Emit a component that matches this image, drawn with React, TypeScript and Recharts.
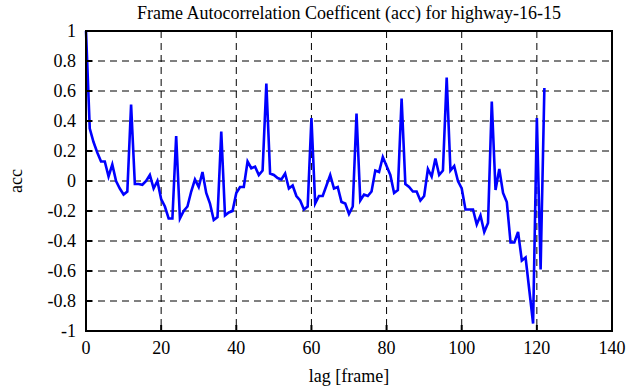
import React from 'react';
import { LineChart, Line, XAxis, YAxis, CartesianGrid, ReferenceArea } from 'recharts';

const lags: number[] = Array.from({ length: 123 }, (_, i) => i);
const acc: number[] = [
  1.0, 0.35, 0.26, 0.19, 0.13, 0.13, 0.03, 0.11, 0.0, -0.05,
  -0.09, -0.07, 0.51, -0.02, -0.02, -0.025, 0.0, 0.04, -0.05, 0.0,
  -0.12, -0.17, -0.25, -0.25, 0.30, -0.25, -0.20, -0.17, -0.07, 0.01,
  -0.04, 0.06, -0.08, -0.15, -0.26, -0.24, 0.33, -0.23, -0.21, -0.20,
  -0.08, -0.04, -0.04, 0.13, 0.085, 0.096, 0.04, 0.07, 0.65, 0.05,
  0.04, 0.02, 0.01, 0.05, -0.05, -0.03, -0.10, -0.13, -0.19, -0.17,
  0.42, -0.15, -0.10, -0.10, -0.03, 0.04, -0.05, -0.04, -0.14, -0.15,
  -0.22, -0.17, 0.45, -0.13, -0.09, -0.10, -0.07, 0.07, 0.06, 0.16,
  0.10, 0.04, -0.08, -0.06, 0.55, -0.02, -0.04, -0.07, -0.07, -0.13,
  -0.10, 0.08, 0.03, 0.15, 0.04, 0.07, 0.69, 0.07, 0.10, 0.0,
  -0.05, -0.19, -0.19, -0.19, -0.29, -0.23, -0.34, -0.28, 0.53, -0.06,
  0.08, -0.08, -0.14, -0.41, -0.41, -0.34, -0.53, -0.51, -0.73, -0.95,
  0.42, -0.59, 0.62,
];
const xTicks: number[] = [0, 20, 40, 60, 80, 100, 120, 140];
const yTicks: number[] = [-1, -0.8, -0.6, -0.4, -0.2, 0, 0.2, 0.4, 0.6, 0.8, 1];

const title = 'Frame Autocorrelation Coefficent (acc) for highway-16-15';
const xLabel = 'lag [frame]';
const yLabel = 'acc';

const data = lags.map((l, i) => ({ lag: l, acc: acc[i] }));

const FONT = '"Liberation Serif", "DejaVu Serif", serif';
const FS = 18;
const fmt = (v: number) => String(Number(v.toFixed(1)));

export default function App() {
  return (
    <div style={{ position: 'absolute', left: 0, top: 0, background: '#fff' }}>
      <LineChart
        width={641}
        height={387}
        data={data}
        margin={{ top: 0, right: 0, bottom: 0, left: 0 }}
        style={{ fontFamily: FONT }}
      >
        <CartesianGrid
          xAxisId="b"
          yAxisId="l"
          stroke="#000"
          strokeDasharray="7 5"
          strokeWidth={1}
        />
        <XAxis
          xAxisId="b"
          dataKey="lag"
          type="number"
          domain={[0, 140]}
          ticks={xTicks}
          height={56}
          stroke="#000"
          strokeWidth={2}
          tickSize={-6}
          tickMargin={16}
          tick={{ fill: '#000', fontSize: FS, fontFamily: FONT }}
          label={{
            content: (p: any) => (
              <text
                x={p.viewBox.x + p.viewBox.width / 2}
                y={p.viewBox.y + 51}
                textAnchor="middle"
                fontSize={FS}
                fontFamily={FONT}
                fill="#000"
              >
                {xLabel}
              </text>
            ),
          }}
        />
        <XAxis
          xAxisId="t"
          orientation="top"
          dataKey="lag"
          type="number"
          domain={[0, 140]}
          ticks={xTicks}
          height={31}
          stroke="#000"
          strokeWidth={2}
          tickSize={-6}
          tick={false}
          label={{
            content: (p: any) => (
              <text
                x={p.viewBox.x + p.viewBox.width / 2}
                y={19}
                textAnchor="middle"
                fontSize={FS}
                fontFamily={FONT}
                fill="#000"
              >
                {title}
              </text>
            ),
          }}
        />
        <YAxis
          yAxisId="l"
          type="number"
          domain={[-1, 1]}
          ticks={yTicks}
          width={86}
          stroke="#000"
          strokeWidth={2}
          tickSize={-6}
          tickMargin={16}
          tickFormatter={fmt}
          tick={{ fill: '#000', fontSize: FS, fontFamily: FONT }}
          label={{
            content: (p: any) => (
              <text
                x={16}
                y={p.viewBox.y + p.viewBox.height / 2}
                textAnchor="middle"
                dominantBaseline="central"
                transform={`rotate(-90, 16, ${p.viewBox.y + p.viewBox.height / 2})`}
                fontSize={FS}
                fontFamily={FONT}
                fill="#000"
              >
                {yLabel}
              </text>
            ),
          }}
        />
        <YAxis
          yAxisId="r"
          orientation="right"
          type="number"
          domain={[-1, 1]}
          ticks={yTicks}
          width={29}
          stroke="#000"
          strokeWidth={2}
          tickSize={-6}
          tick={false}
        />
        <Line
          xAxisId="b"
          yAxisId="l"
          dataKey="acc"
          type="linear"
          stroke="#0000ff"
          strokeWidth={2.6}
          dot={false}
          isAnimationActive={false}
        />
        <ReferenceArea
          xAxisId="b"
          yAxisId="l"
          x1={0}
          x2={140}
          y1={-1}
          y2={1}
          fill="none"
          fillOpacity={0}
          stroke="#000"
          strokeWidth={2}
          ifOverflow="visible"
        />
      </LineChart>
    </div>
  );
}
